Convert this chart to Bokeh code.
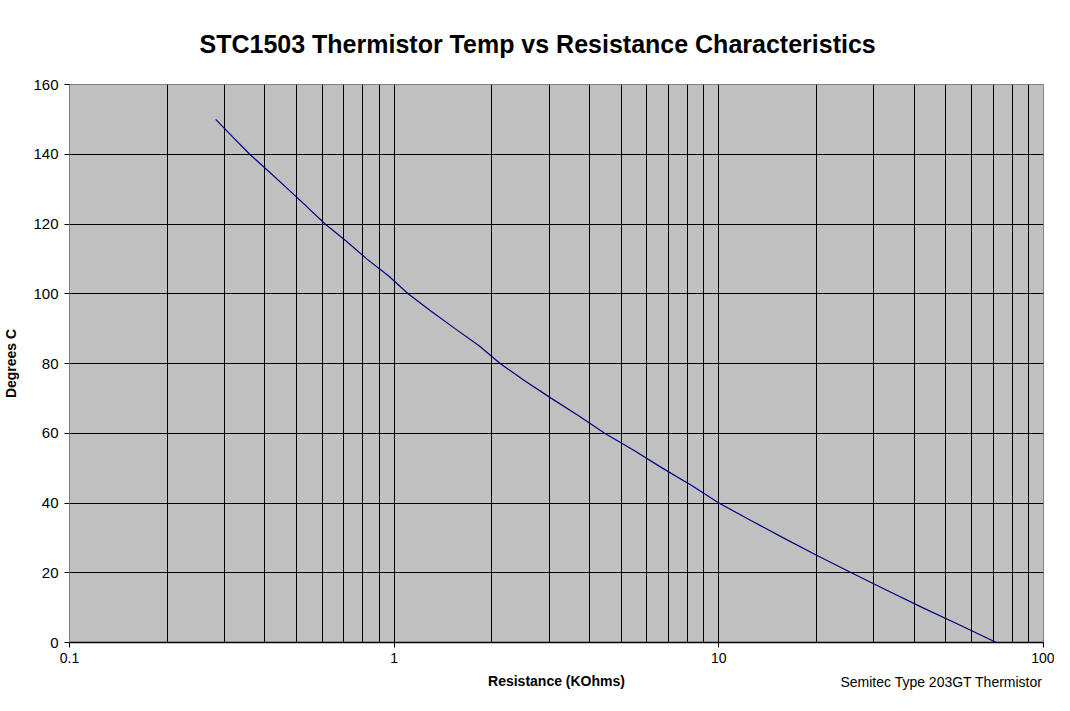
from bokeh.plotting import figure
from bokeh.models import Range1d, FixedTicker, CustomJSTickFormatter, ColumnDataSource, LogAxis
from bokeh.embed import file_html
from bokeh.resources import INLINE

# Data
temps_c = [0, 5, 10, 15, 20, 25, 30, 35, 40, 45, 50, 55, 60, 65, 70, 75,
           80, 85, 90, 95, 100, 105, 110, 115, 120, 125, 130, 135, 140, 145, 150]
resistance_kohm = [71.6, 55.2, 42.4, 32.9, 25.6, 20.0, 15.8, 12.55, 10.0, 8.25,
                   6.7, 5.5, 4.45, 3.70, 3.05, 2.53, 2.12, 1.83, 1.54, 1.30,
                   1.104, 0.964, 0.823, 0.714, 0.613, 0.538, 0.471, 0.412,
                   0.359, 0.318, 0.282]

x_major = [0.1, 1, 10, 100]
x_minor = [0.2, 0.3, 0.4, 0.5, 0.6, 0.7, 0.8, 0.9,
           2, 3, 4, 5, 6, 7, 8, 9,
           20, 30, 40, 50, 60, 70, 80, 90]
y_major = [0, 20, 40, 60, 80, 100, 120, 140, 160]

title_text = "STC1503 Thermistor Temp vs Resistance Characteristics"
x_label = "Resistance (KOhms)"
y_label = "Degrees C"
note_text = "Semitec Type 203GT Thermistor"

FONT = "Liberation Sans"

p = figure(x_axis_type="log", output_backend="svg", toolbar_location=None,
           width=1054, height=696,
           min_border_left=65, min_border_right=11,
           min_border_top=78, min_border_bottom=54,
           x_range=Range1d(0.1, 100), y_range=Range1d(0, 160))

p.background_fill_color = "#C0C0C0"
p.border_fill_color = "white"
p.outline_line_color = "#808080"

src = ColumnDataSource(data=dict(r=resistance_kohm, t=temps_c))
p.line("r", "t", source=src, line_color="#000080", line_width=1.2)

# Title
p.title.text = title_text
p.title.text_font = FONT
p.title.text_font_size = "25px"
p.title.text_font_style = "bold"
p.title.text_color = "black"
p.title.align = "left"
p.title.offset = 130
p.title.standoff = 54

# Axes
p.xaxis.ticker = FixedTicker(ticks=x_major, minor_ticks=x_minor)
p.xaxis.formatter = CustomJSTickFormatter(code="return tick.toString();")
p.yaxis.ticker = FixedTicker(ticks=y_major)

for ax in (p.xaxis[0], p.yaxis[0]):
    ax.major_label_text_font = FONT
    ax.major_label_text_font_size = "15px"
    ax.major_label_text_color = "black"
    ax.axis_label_text_font = FONT
    ax.axis_label_text_font_size = "14px"
    ax.axis_label_text_font_style = "bold"
    ax.axis_label_text_color = "black"
    ax.minor_tick_line_color = None
    ax.major_tick_in = 0
    ax.major_tick_out = 5
    ax.major_tick_line_color = "black"

p.xaxis.major_label_text_font_size = "14px"
p.xaxis.axis_label = x_label
p.yaxis.axis_label = y_label
p.xaxis.axis_line_color = "black"
p.xaxis.axis_line_width = 1.5
p.yaxis.axis_line_color = "#808080"
p.xaxis.major_label_standoff = 5
p.xaxis.axis_label_standoff = 7
p.yaxis.major_label_standoff = 6
p.yaxis.axis_label_standoff = 11

# Footnote: label of an extra, otherwise invisible axis, pulled up onto the
# same row as the main x-axis label; centred label padded on the left with
# non-breaking spaces so that its visible text ends near the frame's right edge
note_axis = LogAxis(ticker=FixedTicker(ticks=[]),
                    axis_label="\u00a0" * 198 + note_text,
                    axis_line_color=None, major_tick_line_color=None,
                    minor_tick_line_color=None, major_tick_out=0, major_tick_in=0,
                    axis_label_text_font=FONT, axis_label_text_font_size="14px",
                    axis_label_text_font_style="normal", axis_label_text_color="black",
                    axis_label_standoff=-18, axis_label_align="center")
p.add_layout(note_axis, "below")

# Grids
p.xgrid.grid_line_color = "black"
p.xgrid.grid_line_width = 1
p.xgrid.minor_grid_line_color = "black"
p.xgrid.minor_grid_line_width = 1
p.ygrid.grid_line_color = "black"
p.ygrid.grid_line_width = 1

open("out.html", "w").write(file_html(p, INLINE))
